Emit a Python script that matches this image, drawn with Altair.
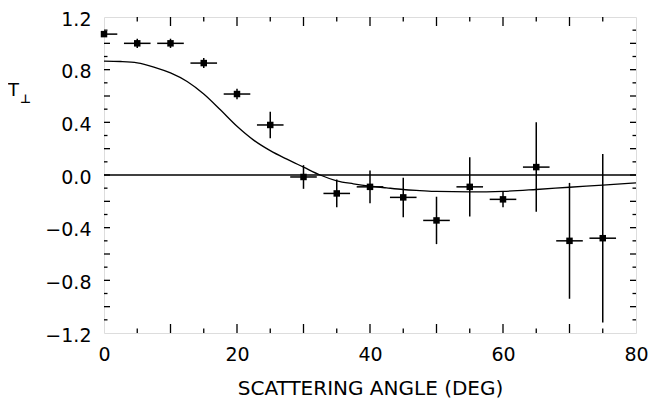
import altair as alt
import pandas as pd

# measured data points
angle = [0, 5, 10, 15, 20, 25, 30, 35, 40, 45, 50, 55, 60, 65, 70, 75]
t_perp = [1.07, 1.00, 1.00, 0.85, 0.615, 0.38, -0.015, -0.14, -0.09, -0.17,
          -0.345, -0.09, -0.185, 0.06, -0.50, -0.48]
t_err = [0.02, 0.035, 0.035, 0.038, 0.04, 0.10, 0.09, 0.105, 0.125, 0.15,
         0.18, 0.225, 0.06, 0.34, 0.44, 0.64]
bin_half = 2.0

# theory curve
curve_x = [0, 2.5, 5, 7.5, 10, 12.5, 15, 17.5, 20, 22.5, 25, 27.5, 30, 32.5,
           35, 37.5, 40, 42.5, 45, 47.5, 50, 55, 60, 65, 70, 75, 80]
curve_y = [0.865, 0.862, 0.852, 0.82, 0.775, 0.71, 0.615, 0.495, 0.37, 0.265,
           0.185, 0.12, 0.06, 0.0, -0.044, -0.067, -0.085, -0.098, -0.11,
           -0.118, -0.125, -0.128, -0.124, -0.11, -0.093, -0.077, -0.06]

x_labels = [0, 20, 40, 60, 80]
y_labels = [-1.2, -0.8, -0.4, 0.0, 0.4, 0.8, 1.2]
x_major = [10, 20, 30, 40, 50, 60, 70]
x_minor = [5, 15, 25, 35, 45, 55, 65, 75]
y_major = [-1.0, -0.8, -0.6, -0.4, -0.2, 0.0, 0.2, 0.4, 0.6, 0.8, 1.0]
y_minor = [-1.1, -0.9, -0.7, -0.5, -0.3, -0.1, 0.1, 0.3, 0.5, 0.7, 0.9, 1.1]

W, H = 532, 316
FONT = "DejaVu Sans"

pts = pd.DataFrame({
    "x": angle, "y": t_perp,
    "xlo": [a - bin_half for a in angle], "xhi": [a + bin_half for a in angle],
    "ylo": [v - e for v, e in zip(t_perp, t_err)],
    "yhi": [v + e for v, e in zip(t_perp, t_err)],
})
cur = pd.DataFrame({"x": curve_x, "y": curve_y})

xs = alt.Scale(domain=[0, 80], nice=False, zero=False)
ys = alt.Scale(domain=[-1.2, 1.2], nice=False, zero=False)

x_axis = alt.Axis(
    values=x_labels, title="SCATTERING ANGLE (DEG)", ticks=False, domain=False,
    grid=False, labelFont=FONT, labelFontSize=19, labelColor="black",
    labelPadding=12, titleFont=FONT, titleFontSize=20, titleFontWeight="normal",
    titleColor="black", titlePadding=14, labelFlush=False)
y_axis = alt.Axis(
    values=y_labels, title=None, ticks=False, domain=False, grid=False,
    labelFont=FONT, labelFontSize=19, labelColor="black", labelPadding=13,
    labelOffset=2, format=".1f", labelFlush=False)

base = alt.Chart(pts)

hbar = base.mark_rule(color="black", strokeWidth=1.5, clip=True).encode(
    x=alt.X("xlo:Q", scale=xs, axis=x_axis), x2="xhi:Q",
    y=alt.Y("y:Q", scale=ys, axis=y_axis))
vbar = base.mark_rule(color="black", strokeWidth=1.5, clip=True).encode(
    x=alt.X("x:Q", scale=xs), y=alt.Y("ylo:Q", scale=ys), y2="yhi:Q")
sq = base.mark_square(color="black", size=42, opacity=1).encode(
    x=alt.X("x:Q", scale=xs), y=alt.Y("y:Q", scale=ys))

line = alt.Chart(cur).mark_line(color="black", strokeWidth=1.3,
                                interpolate="monotone").encode(
    x=alt.X("x:Q", scale=xs), y=alt.Y("y:Q", scale=ys))

zero = alt.Chart(pd.DataFrame({"y": [0.0]})).mark_rule(
    color="black", strokeWidth=1.3).encode(
    y=alt.Y("y:Q", scale=ys), x=alt.value(0), x2=alt.value(W))


def xticks(vals, length):
    d = alt.Chart(pd.DataFrame({"x": vals}))
    bot = d.mark_rule(color="black", strokeWidth=1.3).encode(
        x=alt.X("x:Q", scale=xs), y=alt.value(H), y2=alt.value(H - length))
    top = d.mark_rule(color="black", strokeWidth=1.3).encode(
        x=alt.X("x:Q", scale=xs), y=alt.value(0), y2=alt.value(length))
    return [bot, top]


def yticks(vals, length):
    d = alt.Chart(pd.DataFrame({"y": vals}))
    left = d.mark_rule(color="black", strokeWidth=1.3).encode(
        y=alt.Y("y:Q", scale=ys), x=alt.value(0), x2=alt.value(length))
    right = d.mark_rule(color="black", strokeWidth=1.3).encode(
        y=alt.Y("y:Q", scale=ys), x=alt.value(W), x2=alt.value(W - length))
    return [left, right]


ticks = xticks(x_major, 9) + xticks(x_minor, 4.5) + yticks(y_major, 6) + yticks(y_minor, 3.5)

t_label = alt.Chart(pd.DataFrame({"t": ["T"]})).mark_text(
    font=FONT, fontSize=18, align="left", baseline="alphabetic", color="black").encode(
    text="t:N", x=alt.value(-96), y=alt.value(79))
perp_label = alt.Chart(pd.DataFrame({"t": ["⊥"]})).mark_text(
    font=FONT, fontSize=12, fontWeight="bold", align="left", baseline="alphabetic",
    color="black").encode(
    text="t:N", x=alt.value(-84), y=alt.value(86))

chart = alt.layer(hbar, vbar, sq, line, zero, *ticks, t_label, perp_label).properties(
    width=W, height=H,
    autosize=alt.AutoSizeParams(type="none"),
    padding={"left": 96, "top": 9, "right": 13, "bottom": 67},
).configure_view(stroke="black", strokeWidth=1.5).configure(background="white")

chart.save("out.html", embed_options={"renderer": "svg", "actions": False})
